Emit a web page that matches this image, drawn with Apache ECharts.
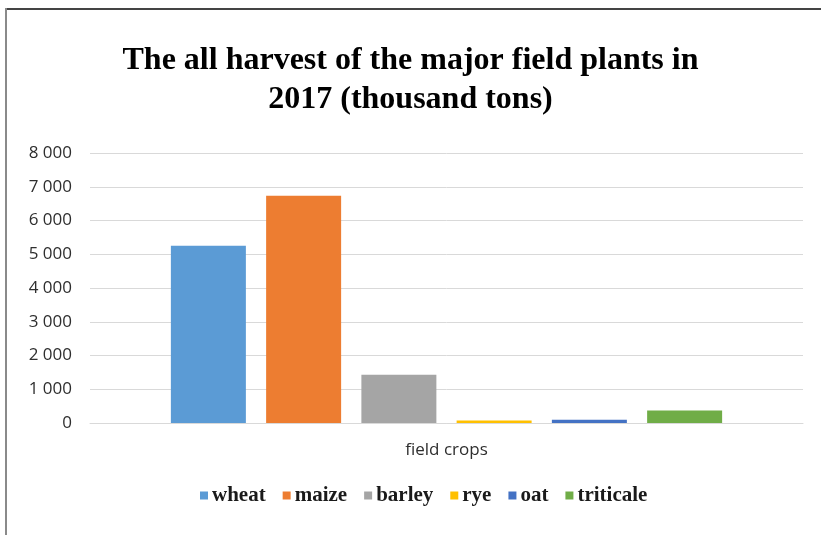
<!DOCTYPE html>
<html>
<head>
<meta charset="utf-8">
<script src="https://cdn.jsdelivr.net/npm/echarts@6/dist/echarts.min.js"></script>
<style>
  html, body { margin: 0; padding: 0; background: #ffffff; }
  #chart { width: 821px; height: 535px; }
</style>
</head>
<body>
<div id="chart"></div>
<script>
// Harvest of the major field plants, 2017 (thousand tons)
const categories = ['field crops'];
const crops = ['wheat', 'maize', 'barley', 'rye', 'oat', 'triticale'];
const harvest = [5250, 6730, 1430, 75, 95, 370];
const cropColors = ['#5b9bd5', '#ed7d31', '#a5a5a5', '#ffc000', '#4472c4', '#70ad47'];
const yTicks = { min: 0, max: 8000, interval: 1000 };

// "8 000" style thousands grouping
function groupThousands(v) {
  return String(v).replace(/\B(?=(\d{3})+(?!\d))/g, ' ');
}

const chart = echarts.init(document.getElementById('chart'), null, { renderer: 'canvas' });

const series = crops.map((name, i) => ({
  name: name,
  type: 'bar',
  data: [harvest[i]],
  barWidth: 75,
  barGap: '27%',
  itemStyle: { color: cropColors[i] }
}));

chart.setOption({
  backgroundColor: '#ffffff',
  animation: false,
  title: {
    text: 'The all harvest of the major field plants in\n2017 (thousand tons)',
    left: 'center',
    top: 36,
    textStyle: {
      fontFamily: 'Liberation Serif',
      fontWeight: 'bold',
      fontSize: 32,
      lineHeight: 39,
      color: '#000000'
    }
  },
  legend: {
    data: crops,
    left: 195,
    top: 480,
    icon: 'rect',
    itemWidth: 8,
    itemHeight: 8,
    itemGap: 17,
    textStyle: {
      fontFamily: 'Liberation Serif',
      fontWeight: 'bold',
      fontSize: 21,
      color: '#1a1a1a',
      padding: [0, 0, 0, -1]
    }
  },
  grid: { left: 90, right: 18, top: 153, bottom: 112 },
  xAxis: {
    type: 'category',
    data: categories,
    axisLine: { lineStyle: { color: '#d9d9d9', width: 1 } },
    axisTick: { show: false },
    axisLabel: {
      margin: 19,
      fontFamily: 'Open Sans',
      fontSize: 17,
      color: '#2e2e2e'
    }
  },
  yAxis: {
    type: 'value',
    min: yTicks.min,
    max: yTicks.max,
    interval: yTicks.interval,
    axisLine: { show: false },
    axisTick: { show: false },
    splitLine: { lineStyle: { color: '#d9d9d9', width: 1 } },
    axisLabel: {
      margin: 18,
      fontFamily: 'Open Sans',
      fontSize: 17,
      color: '#2e2e2e',
      formatter: groupThousands
    }
  },
  graphic: [
    { type: 'line', shape: { x1: 5, y1: 9, x2: 821, y2: 9 }, style: { stroke: '#444444', lineWidth: 2 } },
    { type: 'line', shape: { x1: 6, y1: 8, x2: 6, y2: 535 }, style: { stroke: '#8a8a8a', lineWidth: 2 } }
  ],
  series: series
});
</script>
</body>
</html>
